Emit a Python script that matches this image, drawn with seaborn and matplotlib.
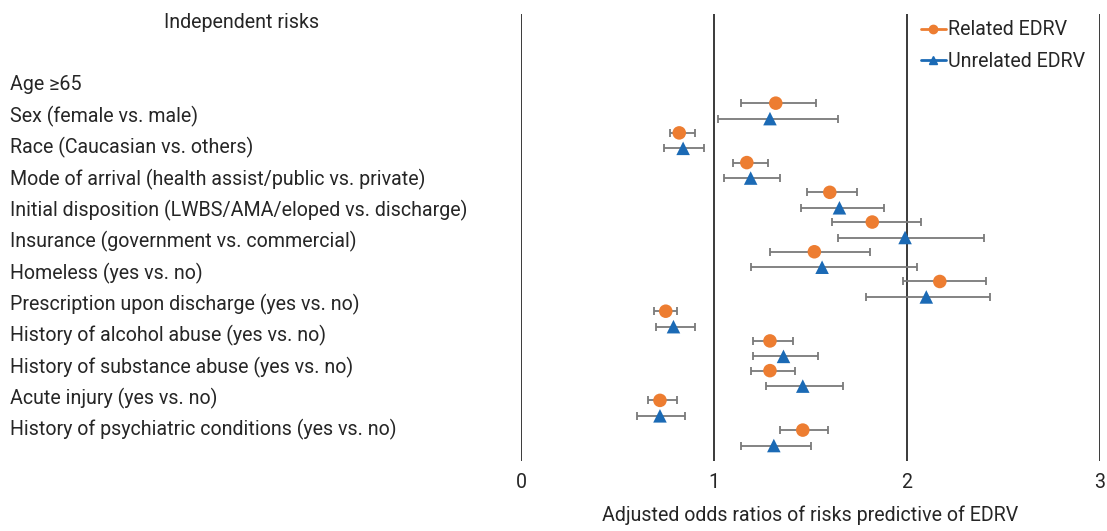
import numpy as np
import pandas as pd
import matplotlib
matplotlib.use("Agg")
import matplotlib.pyplot as plt
from matplotlib.lines import Line2D
import seaborn as sns

# ***** Data ***** #
risks = ["Age \u226565",
         "Sex (female vs. male)",
         "Race (Caucasian vs. others)",
         "Mode of arrival (health assist/public vs. private)",
         "Initial disposition (LWBS/AMA/eloped vs. discharge)",
         "Insurance (government vs. commercial)",
         "Homeless (yes vs. no)",
         "Prescription upon discharge (yes vs. no)",
         "History of alcohol abuse (yes vs. no)",
         "History of substance abuse (yes vs. no)",
         "Acute injury (yes vs. no)",
         "History of psychiatric conditions (yes vs. no)"]

related_or = [1.32, 0.82, 1.17, 1.60, 1.82, 1.52, 2.17, 0.75, 1.29, 1.29, 0.72, 1.46]
related_lo = [1.14, 0.77, 1.10, 1.48, 1.61, 1.29, 1.98, 0.69, 1.20, 1.19, 0.66, 1.34]
related_hi = [1.53, 0.90, 1.28, 1.74, 2.07, 1.81, 2.41, 0.81, 1.41, 1.42, 0.81, 1.59]

unrelated_or = [1.29, 0.84, 1.19, 1.65, 1.99, 1.56, 2.10, 0.79, 1.36, 1.46, 0.72, 1.31]
unrelated_lo = [1.02, 0.74, 1.05, 1.45, 1.64, 1.19, 1.79, 0.70, 1.20, 1.27, 0.60, 1.14]
unrelated_hi = [1.64, 0.95, 1.34, 1.88, 2.40, 2.05, 2.43, 0.90, 1.54, 1.67, 0.85, 1.50]

groups = ["Related EDRV", "Unrelated EDRV"]
colors = {"Related EDRV": "#ED7D31", "Unrelated EDRV": "#1B6AB5"}
markers = {"Related EDRV": "o", "Unrelated EDRV": "^"}

# the two series sit half a row apart in the original
offset = {"Related EDRV": 0.0, "Unrelated EDRV": 0.52}

rows = np.arange(len(risks))
df = pd.concat([
    pd.DataFrame({"row": rows + offset[groups[0]], "OR": related_or,
                  "lo": related_lo, "hi": related_hi, "group": groups[0]}),
    pd.DataFrame({"row": rows + offset[groups[1]], "OR": unrelated_or,
                  "lo": unrelated_lo, "hi": unrelated_hi, "group": groups[1]}),
], ignore_index=True)

sns.set_style("white")
plt.rcParams["font.family"] = ["Roboto", "DejaVu Sans"]
FS = 14.1

fig = plt.figure(figsize=(11.07, 5.31), dpi=100)
ax = fig.add_axes([521 / 1107, 1 - 461 / 531, (1100 - 521) / 1107, (461 - 14) / 531])
ax_lab = fig.add_axes([0, 1 - 461 / 531, 0.45, (461 - 14) / 531])

# ***** Forest plot ***** #
for xv in [0, 1, 2, 3]:
    ax.axvline(xv, color="#3a3a3a", lw=1.4, zorder=0)

ax.errorbar(df["OR"], df["row"], xerr=[df["OR"] - df["lo"], df["hi"] - df["OR"]],
            fmt="none", ecolor="#7a7a7a", elinewidth=1.3, capsize=2.8, capthick=1.3, zorder=1)
sns.scatterplot(data=df, x="OR", y="row", hue="group", style="group",
                palette=colors, markers=markers, s=95, edgecolor="none",
                legend=False, zorder=2, ax=ax)

ax.set_xlim(0, 3)
ax.set_ylim(12.04, -3.0)
ax.set_xticks([0, 1, 2, 3])
ax.set_yticks([])
ax.tick_params(axis="x", labelsize=FS, length=0, pad=9)
ax.set_xlabel("Adjusted odds ratios of risks predictive of EDRV", fontsize=FS, labelpad=9)
ax.set_ylabel("")
sns.despine(ax=ax, left=True, bottom=True)

handles = [Line2D([0], [0], color=colors[g], marker=markers[g], markersize=6, lw=2)
           for g in groups]
ax.legend(handles, groups, loc="upper right", bbox_to_anchor=(1.005, 1.025), frameon=False,
          fontsize=FS, handlelength=1.3, handletextpad=0.1, labelspacing=0.65)

# ***** Risk labels ***** #
ax_lab.set_xlim(0, 1)
ax_lab.set_ylim(11.99, -2.264)
for i, lab in enumerate(risks):
    ax_lab.text(10 / (0.45 * 1107), i, lab, ha="left", va="center", fontsize=FS)
ax_lab.text(242 / (0.45 * 1107), -2.0, "Independent risks", ha="center", va="center", fontsize=FS)
ax_lab.axis("off")

fig.savefig("out.png", dpi=100)
